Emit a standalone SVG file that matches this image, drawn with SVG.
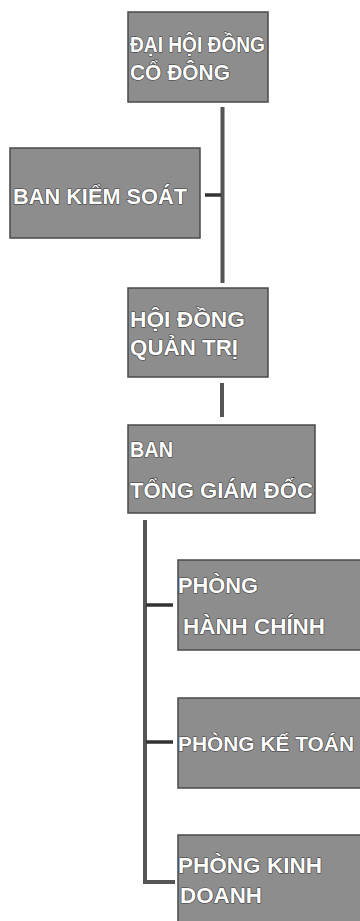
<svg xmlns="http://www.w3.org/2000/svg" width="360" height="921" viewBox="0 0 360 921">
<style>
.box{fill:#8d8d8d;stroke:#4a4a4a;stroke-width:1.5}
.t{font-family:"Liberation Sans",Arial,sans-serif;font-weight:bold;font-size:22px;fill:#ffffff;stroke:#3a3a3a;stroke-width:1.2;paint-order:stroke;stroke-linejoin:round}
.c{stroke:#555555;stroke-width:4;fill:none}
.b{stroke:#333333;stroke-width:3.5;fill:none}
</style>
<rect width="360" height="921" fill="#ffffff"/>
<g id="connectors">
<line class="c" x1="222.5" y1="107" x2="222.5" y2="283"/>
<line class="b" x1="205" y1="195" x2="221" y2="195"/>
<line class="c" x1="222" y1="383" x2="222" y2="417"/>
<polyline class="c" points="145,520 145,882 175,882"/>
<line class="b" x1="146" y1="605" x2="173" y2="605"/>
<line class="b" x1="146" y1="742" x2="173" y2="742"/>
</g>
<g id="dai-hoi-dong-co-dong">
<rect class="box" x="128" y="12" width="140" height="90"/>
<text class="t" x="130" y="52" textLength="135" lengthAdjust="spacingAndGlyphs">ĐẠI HỘI ĐỒNG</text>
<text class="t" x="130" y="80" textLength="100" lengthAdjust="spacingAndGlyphs">CỔ ĐÔNG</text>
</g>
<g id="ban-kiem-soat">
<rect class="box" x="10" y="148" width="190" height="90"/>
<text class="t" x="13" y="204" textLength="174" lengthAdjust="spacingAndGlyphs">BAN KIỂM SOÁT</text>
</g>
<g id="hoi-dong-quan-tri">
<rect class="box" x="128" y="288" width="140" height="89"/>
<text class="t" x="130" y="327" textLength="115" lengthAdjust="spacingAndGlyphs">HỘI ĐỒNG</text>
<text class="t" x="130" y="355" textLength="108" lengthAdjust="spacingAndGlyphs">QUẢN TRỊ</text>
</g>
<g id="ban-tong-giam-doc">
<rect class="box" x="128" y="425" width="187" height="88"/>
<text class="t" x="130" y="457" textLength="43" lengthAdjust="spacingAndGlyphs">BAN</text>
<text class="t" x="130" y="498" textLength="183" lengthAdjust="spacingAndGlyphs">TỔNG GIÁM ĐỐC</text>
</g>
<g id="phong-hanh-chinh">
<rect class="box" x="178" y="560" width="190" height="90"/>
<text class="t" x="178" y="593" textLength="80" lengthAdjust="spacingAndGlyphs">PHÒNG</text>
<text class="t" x="183" y="634" textLength="142" lengthAdjust="spacingAndGlyphs">HÀNH CHÍNH</text>
</g>
<g id="phong-ke-toan">
<rect class="box" x="178" y="698" width="190" height="90"/>
<text class="t" x="178" y="751" style="font-size:21px" textLength="176" lengthAdjust="spacingAndGlyphs">PHÒNG KẾ TOÁN</text>
</g>
<g id="phong-kinh-doanh">
<rect class="box" x="178" y="835" width="190" height="95"/>
<text class="t" x="178" y="873" textLength="144" lengthAdjust="spacingAndGlyphs">PHÒNG KINH</text>
<text class="t" x="180" y="903" textLength="82" lengthAdjust="spacingAndGlyphs">DOANH</text>
</g>
</svg>
